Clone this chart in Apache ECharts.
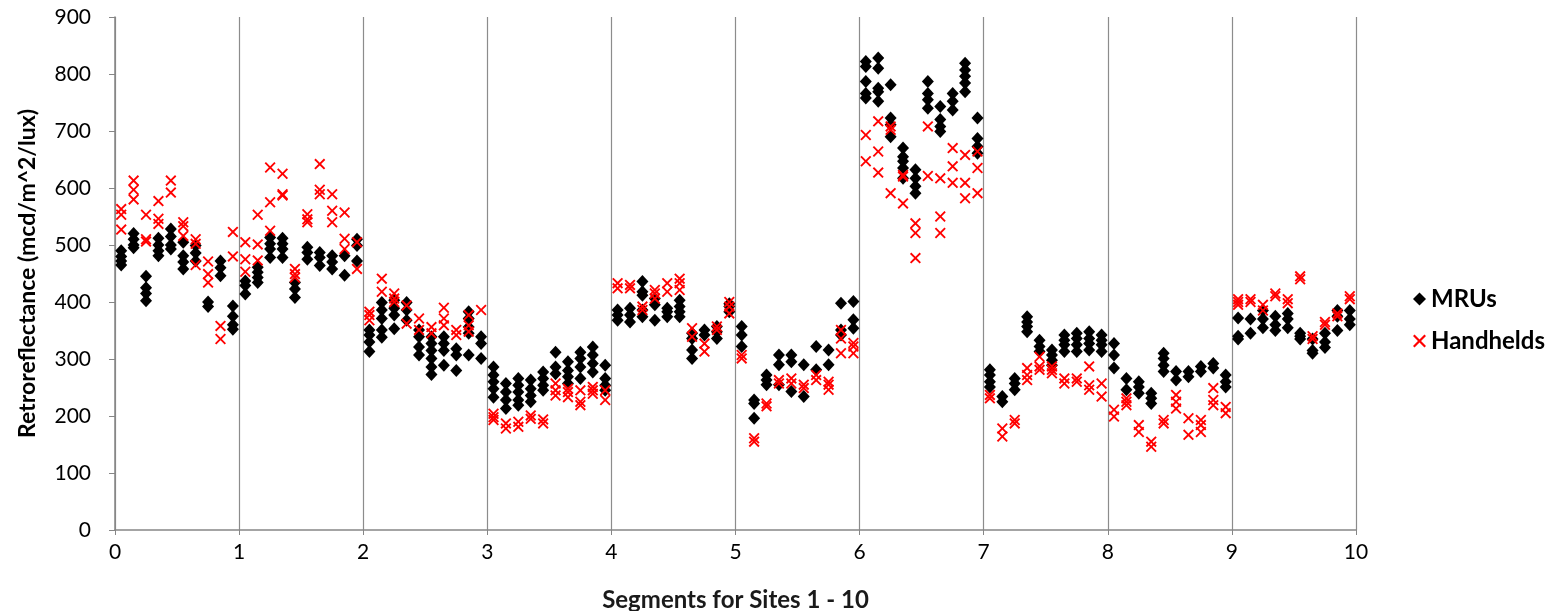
<!DOCTYPE html>
<html>
<head>
<meta charset="utf-8">
<script src="https://cdn.jsdelivr.net/npm/echarts@6/dist/echarts.min.js"></script>
<style>
html,body{margin:0;padding:0;background:#fff;}
#chart{width:1562px;height:611px;}
</style>
</head>
<body>
<div id="chart"></div>
<script>
// Each site has 10 segments; each segment holds several readings.
// MRU readings per segment, sites 1-10
const mru1 = [[490,480,472,465],[520,510,500,495],[445,425,415,402],[512,500,490,481],[528,515,500,493],[505,481,470,458],[499,486,472],[400,392],[472,460,446],[393,375,360,352]];
const mru2 = [[437,429,414],[461,452,443,434],[513,502,493,478],[512,502,493,478],[434,423,408],[496,487,475],[487,478,464],[481,470,458],[481,447],[510,499,472]];
const mru3 = [[351,342,330,313],[399,386,371,351,338],[403,389,377,353],[399,386,368],[351,339,321,307],[339,327,315,301,286,273],[339,327,315,289],[318,307,280],[383,371,356,345,307],[339,327,301]];
const mru4 = [[286,272,260,248,233],[257,242,228,213],[266,254,242,228,219],[263,248,236,225],[277,266,254,245],[312,286,274],[295,280,269,257],[312,301,286,266],[321,307,292,277],[289,266,254,245]];
const mru5 = [[386,377,368],[389,377,365],[436,418,412,386,374],[406,395,368],[389,383,374],[403,392,383,374],[345,336,316,301],[351,342],[357,348,336],[397,392,383]];
const mru6 = [[357,342,322],[228,222,196],[272,263,255],[307,290,255],[307,295,243],[290,234],[322,281],[316,290],[398,351,342],[401,369,354]];
const mru7 = [[822,813,787,766,758],[828,810,775,769,752],[781,723,711,690],[670,655,647,635,617],[632,617,603,591],[787,766,755,740],[743,720,708,699],[766,752,737],[819,807,796,784,769],[723,687,673,661]];
const mru8 = [[281,272,260,251],[234,225],[266,257,246],[374,365,357,348],[333,322,313],[316,307,298,289],[342,333,325,313],[345,336,325,313],[348,336,327,316],[342,333,325,313]];
const mru9 = [[327,307,284],[266,246],[260,251,240],[240,231,222],[310,301,289,278],[278,263],[278,269],[287,278],[292,284],[272,260,251]];
const mru10 = [[372,340,335],[370,345],[385,370,355],[375,360,350],[380,370,355],[345,340,335],[335,315,310],[345,330,320],[385,375,350],[385,370,360]];

// Handheld readings per segment, sites 1-10
const hh1 = [[563,553,527],[613,597,580],[553,510,506],[577,546,537],[613,592],[540,533,516],[510,502,465],[471,449,434],[358,335],[523,480]];
const hh2 = [[505,475,453],[553,501,473],[636,575,525],[625,589,587],[458,449,443],[554,545,540],[642,597,589],[589,560,540],[557,511,493],[505,458]];
const hh3 = [[383,377,368],[441,418],[415,406,400],[394,362],[371,351],[356,345],[390,371,359],[351,342],[377,359,348],[386]];
const hh4 = [[204,198,193],[187,178],[190,181],[201,195],[194,187],[257,245,236],[248,242,233],[245,225,219],[251,245,239],[245,228]];
const hh5 = [[433,424],[430,424],[392,386],[421,415,406],[433,418],[441,433,421],[354,339],[327,313],[357,351],[400,392,380]];
const hh6 = [[307,301],[161,155],[222,217],[263,257],[266,257],[255,249],[272,263],[260,255,246],[351,336,310],[328,322,310]];
const hh7 = [[693,647],[717,664,627],[708,702,591],[623,620,573],[538,521,477],[708,621],[617,550,521],[670,638,609],[658,609,582],[664,635,591]];
const hh8 = [[237,231],[178,164],[193,187],[284,272,263],[304,287,281],[287,281,275],[266,257],[266,260],[287,254,246],[257,234]];
const hh9 = [[211,199],[231,225,219],[184,172],[155,146],[193,187],[237,225,213],[196,167],[193,184,172],[249,228,219],[216,205]];
const hh10 = [[405,400,395],[405,400],[395,385],[415,410],[405,398],[445,440],[340,335],[365,360],[380,375],[410,405]];

const mruSites = [mru1,mru2,mru3,mru4,mru5,mru6,mru7,mru8,mru9,mru10];
const hhSites = [hh1,hh2,hh3,hh4,hh5,hh6,hh7,hh8,hh9,hh10];

const xTicks = [0,1,2,3,4,5,6,7,8,9,10];
const yTicks = [0,100,200,300,400,500,600,700,800,900];
const seriesNames = ['MRUs','Handhelds'];

function toPoints(sites){
  const pts = [];
  sites.forEach((segs, s) => {
    segs.forEach((vals, k) => {
      const x = s + 0.05 + 0.1 * k;
      vals.forEach(v => pts.push([x, v]));
    });
  });
  return pts;
}

const crossPath = 'path://M0,1.2L1.2,0L5,3.8L8.8,0L10,1.2L6.2,5L10,8.8L8.8,10L5,6.2L1.2,10L0,8.8L3.8,5Z';
const FONT = 'Lato, "Open Sans", sans-serif';

const chart = echarts.init(document.getElementById('chart'), null, {renderer:'canvas'});
chart.setOption({
  animation:false,
  backgroundColor:'#fff',
  grid:{left:115, right:206, top:17, bottom:81, containLabel:false, outerBoundsMode:'none'},
  xAxis:{
    type:'value', min:xTicks[0], max:xTicks[xTicks.length-1], interval:1,
    name:'Segments for Sites 1 - 10', nameLocation:'middle', nameGap:58,
    nameTextStyle:{fontFamily:FONT, fontWeight:'bold', fontSize:24, color:'#1a1a1a'},
    axisLine:{show:true, lineStyle:{color:'#868686', width:1.5}},
    axisTick:{show:true, length:5, lineStyle:{color:'#868686'}},
    axisLabel:{fontFamily:FONT, fontSize:21, color:'#000', margin:12},
    splitLine:{show:true, lineStyle:{color:'#8c8c8c', width:1.2}}
  },
  yAxis:{
    type:'value', min:yTicks[0], max:yTicks[yTicks.length-1], interval:100,
    name:'Retroreflectance (mcd/m^2/lux)', nameLocation:'middle', nameGap:76,
    nameTextStyle:{fontFamily:FONT, fontWeight:'bold', fontSize:23, color:'#000'},
    axisLine:{show:true, lineStyle:{color:'#868686', width:1.5}},
    axisTick:{show:true, length:6, lineStyle:{color:'#868686'}},
    axisLabel:{fontFamily:FONT, fontSize:21, color:'#000', margin:24},
    splitLine:{show:false}
  },
  legend:{
    orient:'vertical', left:1408, top:282, itemGap:18,
    itemWidth:13, itemHeight:13,
    textStyle:{fontFamily:FONT, fontWeight:'bold', fontSize:24, color:'#000'},
    data:[
      {name:seriesNames[0], icon:'diamond', itemStyle:{color:'#000'}},
      {name:seriesNames[1], icon:crossPath, itemStyle:{color:'#ff0000'}}
    ]
  },
  series:[
    {name:seriesNames[0], type:'scatter', symbol:'diamond', symbolSize:[12,13],
     itemStyle:{color:'#000', opacity:1}, data:toPoints(mruSites), z:2},
    {name:seriesNames[1], type:'scatter', symbol:crossPath, symbolSize:11,
     itemStyle:{color:'#ff0000', opacity:1}, data:toPoints(hhSites), z:3}
  ]
});
</script>
</body>
</html>
